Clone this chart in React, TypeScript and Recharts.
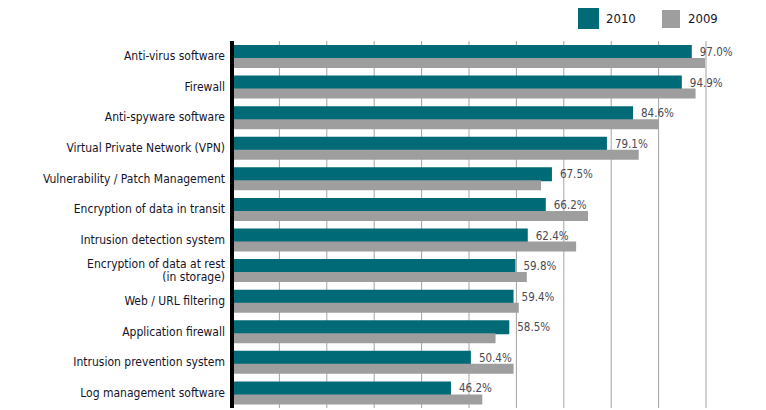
import { Bar, BarChart, CartesianGrid, LabelList, XAxis, YAxis } from "recharts"

const categories = [
    "Anti-virus software",
    "Firewall",
    "Anti-spyware software",
    "Virtual Private Network (VPN)",
    "Vulnerability / Patch Management",
    "Encryption of data in transit",
    "Intrusion detection system",
    "Encryption of data at rest\n(in storage)",
    "Web / URL filtering",
    "Application firewall",
    "Intrusion prevention system",
    "Log management software",
]

const values2010 = [97.0, 94.9, 84.6, 79.1, 67.5, 66.2, 62.4, 59.8, 59.4, 58.5, 50.4, 46.2]
const values2009 = [99.8, 97.8, 90.0, 85.8, 65.2, 75.1, 72.6, 62.2, 60.5, 55.6, 59.4, 52.8]

const xTicks = [0, 10, 20, 30, 40, 50, 60, 70, 80, 90, 100]

const data = categories.map((name, i) => ({
    name,
    y2010: values2010[i],
    y2009: values2009[i],
}))

const FONT = "'Liberation Sans Narrow', 'DejaVu Sans Condensed', 'Arial Narrow', sans-serif"
const TEAL = "#006b77"
const GREY = "#9e9e9f"

const CategoryTick = ({ x, y, payload }: any) => {
    const lines = String(payload.value).split("\n")
    const lh = 12.5
    const start = -((lines.length - 1) * lh) / 2
    return (
        <text x={x} y={y} textAnchor="end" fill="#14142a" fontSize={12} fontFamily={FONT} style={{ fontStretch: "condensed" }}>
            {lines.map((l, i) => (
                <tspan key={i} x={x} dy={i === 0 ? start + 4 : lh}>
                    {l}
                </tspan>
            ))}
        </text>
    )
}

// legend sits over the chart, top right
const LegendBox = () => (
    <div style={{ position: "absolute", top: 8, left: 578, display: "flex", alignItems: "center", fontFamily: FONT, fontStretch: "condensed", fontSize: 13, color: "#14142a" }}>
        <span style={{ width: 21, height: 21, background: TEAL, display: "inline-block" }} />
        <span style={{ marginLeft: 7, width: 56 }}>2010</span>
        <span style={{ width: 18, height: 18, background: GREY, display: "inline-block" }} />
        <span style={{ marginLeft: 8 }}>2009</span>
    </div>
)

export default function App() {
    return (
        <div style={{ position: "absolute", left: 0, top: 0, width: 766, height: 410, background: "#fff" }}>
            <BarChart
                width={766}
                height={410}
                data={data}
                layout="vertical"
                margin={{ top: 41, right: 60, left: 0, bottom: 2 }}
                barGap={-1}
            >
                <CartesianGrid horizontal={false} stroke="#a3a3a3" strokeWidth={1} />
                <XAxis type="number" domain={[0, 100]} ticks={xTicks} hide />
                <YAxis
                    type="category"
                    dataKey="name"
                    width={232}
                    axisLine={{ stroke: "#000", strokeWidth: 4 }}
                    tickLine={false}
                    tickSize={0}
                    tickMargin={7}
                    tick={<CategoryTick />}
                    interval={0}
                />
                <Bar dataKey="y2010" fill={TEAL} barSize={14} isAnimationActive={false}>
                    <LabelList
                        dataKey="y2010"
                        position="right"
                        offset={8}
                        formatter={(v: any) => `${Number(v).toFixed(1)}%`}
                        fill="#4a4a55"
                        fontSize={11.5}
                        fontFamily={FONT}
                    />
                </Bar>
                <Bar dataKey="y2009" fill={GREY} barSize={10} isAnimationActive={false} />
            </BarChart>
            <LegendBox />
        </div>
    )
}
